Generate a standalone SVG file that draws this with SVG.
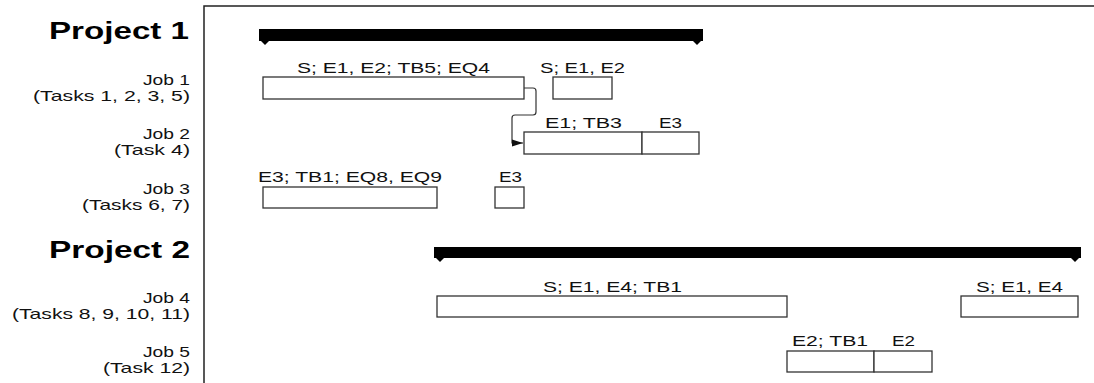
<svg xmlns="http://www.w3.org/2000/svg" width="1094" height="383" viewBox="0 0 1094 383">
<style>
  .proj{font-family:"Liberation Sans",Arial,sans-serif;font-weight:bold;font-size:23.5px;fill:#000}
  .lbl{font-family:"Liberation Sans",Arial,sans-serif;font-size:15px;fill:#111}
  .tl{font-family:"Liberation Sans",Arial,sans-serif;font-size:14.5px;fill:#111}
  .box{fill:#fff;stroke:#333;stroke-width:1.3}
  .bar{fill:#000}
  .frame{stroke:#222;stroke-width:1.5;fill:none}
  .conn{fill:none;stroke:#333;stroke-width:1.2}
</style>
<defs>
  <marker id="arr" markerUnits="userSpaceOnUse" markerWidth="11" markerHeight="8" refX="11" refY="4" orient="auto">
    <path d="M0,0.5 L11,4 L0,7.5 z" fill="#111"/>
  </marker>
</defs>
<rect width="1094" height="383" fill="#fff"/>
<g id="frame">
  <path class="frame" d="M204,383 V6 H1094"/>
</g>
<g id="labels">
  <text class="proj" x="49" y="39" textLength="140" lengthAdjust="spacingAndGlyphs">Project 1</text>
  <text class="lbl" x="143" y="85" textLength="47" lengthAdjust="spacingAndGlyphs">Job 1</text>
  <text class="lbl" x="33" y="101" textLength="157" lengthAdjust="spacingAndGlyphs">(Tasks 1, 2, 3, 5)</text>
  <text class="lbl" x="143" y="139" textLength="47" lengthAdjust="spacingAndGlyphs">Job 2</text>
  <text class="lbl" x="114" y="155" textLength="76" lengthAdjust="spacingAndGlyphs">(Task 4)</text>
  <text class="lbl" x="143" y="194" textLength="47" lengthAdjust="spacingAndGlyphs">Job 3</text>
  <text class="lbl" x="82" y="210" textLength="108" lengthAdjust="spacingAndGlyphs">(Tasks 6, 7)</text>
  <text class="proj" x="49" y="258" textLength="141" lengthAdjust="spacingAndGlyphs">Project 2</text>
  <text class="lbl" x="143" y="303" textLength="47" lengthAdjust="spacingAndGlyphs">Job 4</text>
  <text class="lbl" x="12" y="319" textLength="178" lengthAdjust="spacingAndGlyphs">(Tasks 8, 9, 10, 11)</text>
  <text class="lbl" x="143" y="357" textLength="47" lengthAdjust="spacingAndGlyphs">Job 5</text>
  <text class="lbl" x="103" y="373" textLength="87" lengthAdjust="spacingAndGlyphs">(Task 12)</text>
</g>
<g id="project1-bar">
  <path class="bar" d="M259,29 H703 V41 L701,41 L697,45 L693,41 H269 L265,45 L261,41 H259 Z"/>
</g>
<g id="project2-bar">
  <path class="bar" d="M434,247 H1081 V258 L1079,258 L1075,262 L1071,258 H444 L440,262 L436,258 H434 Z"/>
</g>
<g id="job1-task-a">
  <rect class="box" x="263" y="77" width="261" height="22"/>
  <text class="tl" x="297" y="73" textLength="193" lengthAdjust="spacingAndGlyphs">S; E1, E2; TB5; EQ4</text>
</g>
<g id="job1-task-b">
  <rect class="box" x="553" y="77" width="59" height="22"/>
  <text class="tl" x="540" y="73" textLength="85" lengthAdjust="spacingAndGlyphs">S; E1, E2</text>
</g>
<g id="job2">
  <rect class="box" x="524" y="132" width="118" height="22"/>
  <rect class="box" x="642" y="132" width="57" height="22"/>
  <text class="tl" x="545" y="128" textLength="77" lengthAdjust="spacingAndGlyphs">E1; TB3</text>
  <text class="tl" x="659" y="128" textLength="23" lengthAdjust="spacingAndGlyphs">E3</text>
</g>
<g id="job3-task-a">
  <rect class="box" x="263" y="187" width="174" height="21"/>
  <text class="tl" x="258" y="182" textLength="184" lengthAdjust="spacingAndGlyphs">E3; TB1; EQ8, EQ9</text>
</g>
<g id="job3-task-b">
  <rect class="box" x="495" y="187" width="29" height="21"/>
  <text class="tl" x="499" y="182" textLength="23" lengthAdjust="spacingAndGlyphs">E3</text>
</g>
<g id="job4-task-a">
  <rect class="box" x="437" y="296" width="350" height="21"/>
  <text class="tl" x="543" y="292" textLength="139" lengthAdjust="spacingAndGlyphs">S; E1, E4; TB1</text>
</g>
<g id="job4-task-b">
  <rect class="box" x="961" y="296" width="117" height="21"/>
  <text class="tl" x="976" y="292" textLength="87" lengthAdjust="spacingAndGlyphs">S; E1, E4</text>
</g>
<g id="job5">
  <rect class="box" x="787" y="351" width="87" height="21"/>
  <rect class="box" x="874" y="351" width="58" height="21"/>
  <text class="tl" x="792" y="346" textLength="76" lengthAdjust="spacingAndGlyphs">E2; TB1</text>
  <text class="tl" x="892" y="346" textLength="23" lengthAdjust="spacingAndGlyphs">E2</text>
</g>
<g id="connectors">
  <path class="conn" d="M524,88 H533 Q536,88 536,91 V112 Q536,115 533,115 H515 Q512,115 512,118 V143 H523" marker-end="url(#arr)"/>
</g>
</svg>
